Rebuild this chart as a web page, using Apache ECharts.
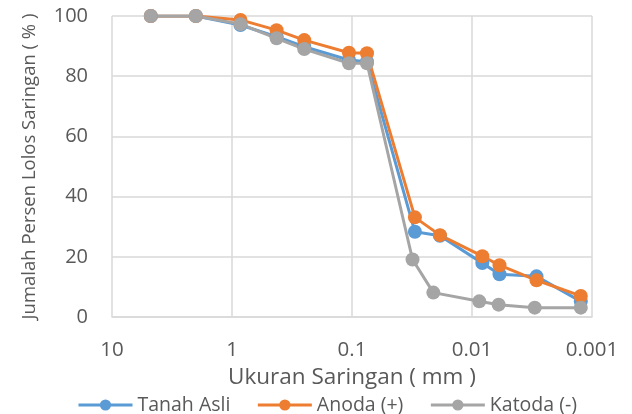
<!DOCTYPE html>
<html>
<head>
<meta charset="utf-8">
<script src="https://cdn.jsdelivr.net/npm/echarts@6/dist/echarts.min.js"></script>
<style>
  html, body { margin: 0; padding: 0; background: #fff; }
  #chart { width: 632px; height: 414px; }
</style>
</head>
<body>
<div id="chart"></div>
<script>
// Sieve / hydrometer grain sizes (mm)
var sizesTanahAnoda = [4.75, 2.0, 0.85, 0.425, 0.25, 0.106, 0.075, 0.0299, 0.0185, 0.0082, 0.0059, 0.0029, 0.00124];
var sizesKatoda = [4.75, 2.0, 0.85, 0.425, 0.25, 0.106, 0.075, 0.0313, 0.021, 0.0087, 0.0060, 0.0030, 0.00124];

// Percent passing (%)
var tanahAsli = [100, 100, 97, 93.1, 89.8, 85.4, 84.8, 28.3, 27, 17.9, 14.2, 13.5, 5.2];
var anoda = [100, 100, 98.7, 95.3, 92, 87.8, 87.6, 33.1, 27.2, 20.2, 17.2, 12.2, 7.0];
var katoda = [100, 100, 97.3, 92.6, 89, 84.3, 84.3, 19.1, 8.1, 5.2, 4.1, 3.1, 3.1];

var xTickLabels = { 10: '10', 1: '1', 0.1: '0.1', 0.01: '0.01', 0.001: '0.001' };
var seriesNames = ['Tanah Asli', 'Anoda (+)', 'Katoda (-)'];
var colors = ['#5B9BD5', '#ED7D31', '#A5A5A5'];

function pairs(xs, ys) {
  return xs.map(function (x, i) { return [x, ys[i]]; });
}

var FONT = 'Open Sans';
var TEXT = '#595959';

function lineSeries(name, color, data) {
  return {
    name: name,
    type: 'line',
    data: data,
    symbol: 'circle',
    symbolSize: 14,
    lineStyle: { color: color, width: 3 },
    itemStyle: { color: color },
    emphasis: { disabled: true },
    animation: false
  };
}

var chart = echarts.init(document.getElementById('chart'));
chart.setOption({
  backgroundColor: '#ffffff',
  animation: false,
  textStyle: { fontFamily: FONT },
  grid: { left: 112, right: 40, top: 16, bottom: 97, containLabel: false },
  legend: {
    left: 72,
    top: 390,
    itemWidth: 54,
    itemHeight: 14,
    itemGap: 26,
    data: seriesNames,
    lineStyle: { width: 3 },
    textStyle: { color: TEXT, fontSize: 19.5, fontFamily: FONT }
  },
  xAxis: {
    type: 'log',
    logBase: 10,
    inverse: true,
    min: 0.001,
    max: 10,
    name: 'Ukuran Saringan ( mm )',
    nameLocation: 'middle',
    nameGap: 48,
    nameTextStyle: { color: TEXT, fontSize: 22.5, fontFamily: FONT },
    axisLine: { show: true, lineStyle: { color: '#d9d9d9', width: 1.5 } },
    axisTick: { show: false },
    axisLabel: {
      color: TEXT, fontSize: 20.5, margin: 23, fontFamily: FONT,
      formatter: function (v) {
        var k = Math.round(Math.log10(v));
        return xTickLabels[Math.pow(10, k)] || String(v);
      }
    },
    splitLine: { show: true, lineStyle: { color: '#d9d9d9', width: 1.5 } },
    minorTick: { show: false },
    minorSplitLine: { show: false }
  },
  yAxis: {
    type: 'value',
    min: 0,
    max: 100,
    interval: 20,
    name: 'Jumalah Persen Lolos Saringan ( % )',
    nameLocation: 'middle',
    nameGap: 73,
    nameTextStyle: { color: TEXT, fontSize: 18.5, fontFamily: FONT },
    axisLine: { show: false },
    axisTick: { show: false },
    axisLabel: { color: TEXT, fontSize: 20, margin: 24, fontFamily: FONT },
    splitLine: { show: true, lineStyle: { color: '#d9d9d9', width: 1.5 } }
  },
  series: [
    lineSeries(seriesNames[0], colors[0], pairs(sizesTanahAnoda, tanahAsli)),
    lineSeries(seriesNames[1], colors[1], pairs(sizesTanahAnoda, anoda)),
    lineSeries(seriesNames[2], colors[2], pairs(sizesKatoda, katoda))
  ]
});
</script>
</body>
</html>
